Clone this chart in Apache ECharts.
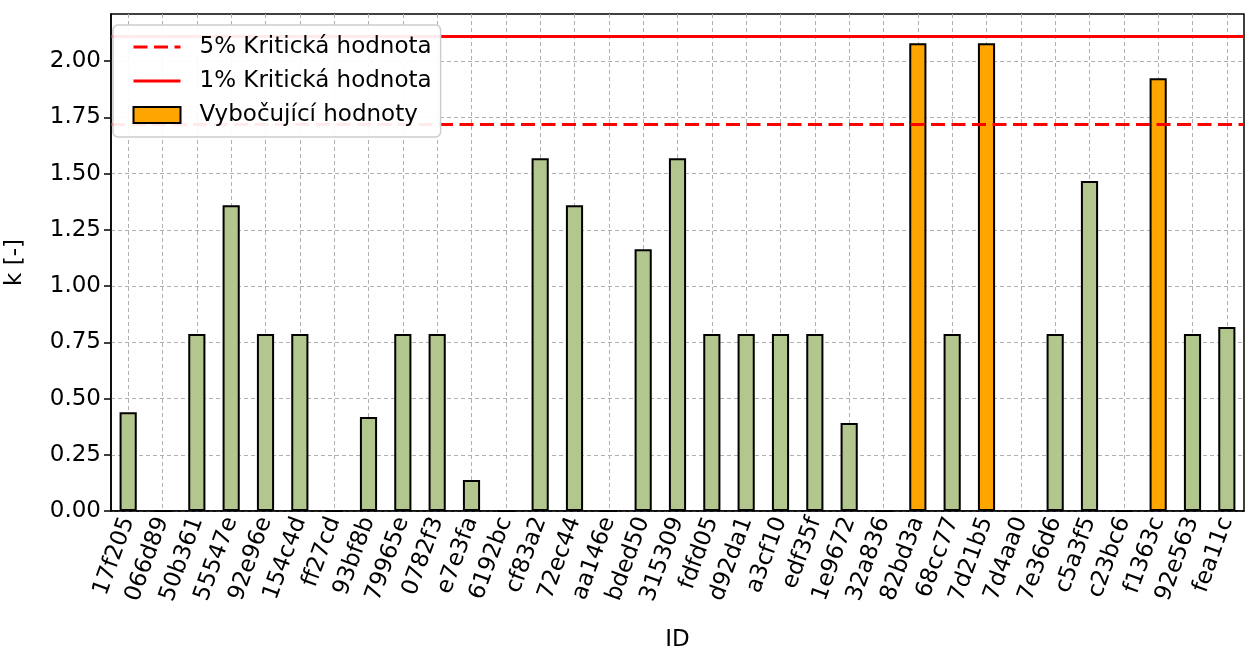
<!DOCTYPE html>
<html>
<head>
<meta charset="utf-8">
<script src="https://cdn.jsdelivr.net/npm/echarts@6/dist/echarts.min.js"></script>
<style>html,body{margin:0;padding:0;background:#fff;}#c{width:1247px;height:649px;}</style>
</head>
<body>
<div id="c"></div>
<script>
const categories = ['17f205','066d89','50b361','55547e','92e96e','154c4d','ff27cd','93bf8b','79965e','0782f3','e7e3fa','6192bc','cf83a2','72ec44','aa146e','bded50','315309','fdfd05','d92da1','a3cf10','edf35f','1e9672','32a836','82bd3a','68cc77','7d21b5','7d4aa0','7e36d6','c5a3f5','c23bc6','f1363c','92e563','fea11c'];
const kValues = [0.439,0,0.787,1.36,0.787,0.787,0,0.418,0.787,0.787,0.138,0,1.569,1.36,0,1.164,1.569,0.787,0.787,0.787,0.787,0.391,0,2.08,0.787,2.08,0,0.787,1.467,0,1.924,0.787,0.818];
const outliers = ['82bd3a','7d21b5','f1363c'];
const crit5 = 1.724;
const crit1 = 2.107;
const yTicks = [0,0.25,0.5,0.75,1.0,1.25,1.5,1.75,2.0];

const FONT = 'DejaVu Sans';
const FS = 23;
const chart = echarts.init(document.getElementById('c'));
const barData = categories.map((c, i) => ({
  value: kValues[i],
  itemStyle: { color: outliers.includes(c) ? '#ffa500' : '#b3c68d' }
}));
const hiddenSym = { color: 'transparent', borderWidth: 0, opacity: 0 };
chart.setOption({
  animation: false,
  textStyle: { fontFamily: FONT },
  grid: { left: 111, right: 3, top: 14, bottom: 138, show: true, borderColor: '#000', borderWidth: 1.5, backgroundColor: 'transparent', containLabel: false, outerBoundsMode: 'none' },
  legend: {
    orient: 'vertical', left: 113, top: 25, z: 20,
    padding: [10, 9, 10, 19],
    itemWidth: 47, itemHeight: 16, itemGap: 10,
    backgroundColor: 'rgba(255,255,255,0.92)',
    borderColor: '#cccccc', borderWidth: 1.5, borderRadius: 5,
    textStyle: { fontFamily: FONT, fontSize: FS, color: '#000', padding: [0, 0, 0, 14], lineHeight: 24 },
    data: [
      { name: '5% Kritická hodnota', itemStyle: hiddenSym, lineStyle: { width: 3, color: '#ff0000', type: [14, 6.5] } },
      { name: '1% Kritická hodnota', itemStyle: hiddenSym, lineStyle: { width: 3, color: '#ff0000' } },
      { name: 'Vybočující hodnoty', icon: 'rect', itemStyle: { color: '#ffa500', borderColor: '#000', borderWidth: 2 } }
    ]
  },
  xAxis: {
    type: 'category', data: categories,
    name: 'ID', nameLocation: 'middle', nameGap: 118,
    nameTextStyle: { fontFamily: FONT, fontSize: FS, color: '#000' },
    axisLine: { lineStyle: { color: '#000', width: 1.5 } },
    axisTick: { alignWithLabel: true, length: 7, lineStyle: { color: '#000', width: 1.5 } },
    axisLabel: { rotate: 70, interval: 0, fontFamily: FONT, fontSize: FS, color: '#000', margin: 7 },
    splitLine: { show: true, alignWithLabel: true, lineStyle: { color: '#b0b0b0', type: [4, 3], width: 1 } }
  },
  yAxis: {
    type: 'value', min: 0, max: 2.21,
    name: 'k [-]', nameLocation: 'middle', nameGap: 84,
    nameTextStyle: { fontFamily: FONT, fontSize: FS, color: '#000' },
    axisLine: { show: true, lineStyle: { color: '#000', width: 1.5 } },
    axisTick: { show: true, length: 7, customValues: yTicks, lineStyle: { color: '#000', width: 1.5 } },
    axisLabel: { customValues: yTicks, fontFamily: FONT, fontSize: FS, color: '#000', margin: 10, formatter: v => v.toFixed(2) },
    splitLine: { show: true, lineStyle: { color: '#b0b0b0', type: [4, 3], width: 1 } }
  },
  series: [
    {
      name: '5% Kritická hodnota', type: 'line', data: [], symbol: 'none',
      lineStyle: { color: '#ff0000', width: 3, type: [14, 6.5] }, itemStyle: { color: '#ff0000' },
      markLine: { silent: true, symbol: 'none', label: { show: false }, lineStyle: { color: '#ff0000', width: 3, type: [14, 6.5] }, data: [{ yAxis: crit5 }] },
      z: 3
    },
    {
      name: '1% Kritická hodnota', type: 'line', data: [], symbol: 'none',
      lineStyle: { color: '#ff0000', width: 3, type: 'solid' }, itemStyle: { color: '#ff0000' },
      markLine: { silent: true, symbol: 'none', label: { show: false }, lineStyle: { color: '#ff0000', width: 3, type: 'solid' }, data: [{ yAxis: crit1 }] },
      z: 3
    },
    {
      name: 'Vybočující hodnoty', type: 'bar', data: barData, barWidth: '50%',
      itemStyle: { color: '#ffa500', borderColor: '#000', borderWidth: 2 },
      z: 2
    }
  ]
});
</script>
</body>
</html>
